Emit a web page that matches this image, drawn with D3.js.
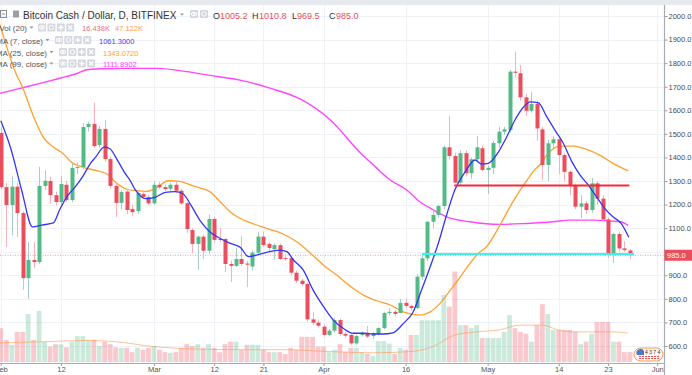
<!DOCTYPE html>
<html><head><meta charset="utf-8">
<script src="https://cdn.jsdelivr.net/npm/d3@7/dist/d3.min.js"></script>
<style>
body{margin:0;background:#fff;}
svg{display:block;font-family:"Liberation Sans",Arial,sans-serif;}
</style>
</head><body>
<svg id="chart" width="692" height="375"></svg>
<script>
// ---------------- DATA ----------------
const startDate = "2018-02-01";            // first daily candle
const open  = [1504,1274,1198,1276,1164,888,965,956,1279,1300,1240,1211,1284,1219,1355,1359,1529,1542,1453,1521,
 1393,1279,1207,1255,1181,1173,1245,1232,1205,1284,1274,1267,1284,1259,1206,1092,1033,1064,1004,1139,
 1054,1054,948,940,969,950,937,996,1064,1033,1011,1028,973,973,911,877,863,713,699,682,
 647,665,710,651,647,611,647,656,642,651,676,740,745,740,783,770,761,894,972,1127,
 1156,1194,1443,1406,1293,1418,1333,1392,1439,1347,1356,1460,1509,1516,1764,1757,1655,1598,1627,1519,
 1368,1460,1477,1410,1339,1283,1191,1205,1177,1290,1225,1137,993,1075,1014,1005.2];
const high  = [1530,1292,1320,1292,1172,1040,1040,1360,1345,1318,1255,1322,1300,1372,1378,1546,1552,1632,1532,1560,
 1402,1290,1262,1268,1200,1258,1252,1242,1300,1296,1285,1292,1296,1266,1210,1100,1068,1072,1156,1147,
 1100,1060,962,1016,1067,962,1005,1085,1085,1040,1035,1035,990,980,920,885,868,744,712,690,
 672,720,716,660,652,648,662,685,660,680,745,760,752,800,800,775,905,985,1130,1175,
 1200,1450,1576,1420,1430,1430,1400,1491,1450,1365,1470,1530,1530,1770,1849,1792,1670,1678,1640,1530,
 1475,1490,1485,1418,1345,1290,1240,1215,1313,1300,1240,1145,1080,1085,1045,1010.8];
const low   = [1265,1020,1070,1062,838,800,930,948,1262,1205,1196,1200,1210,1210,1330,1350,1510,1440,1440,1382,
 1268,1147,1180,1160,1150,1160,1225,1198,1198,1265,1258,1255,1250,1200,1080,994,922,969,990,1040,
 1040,914,871,935,940,850,920,990,1020,1000,965,965,960,900,868,855,705,690,680,640,
 640,655,645,636,605,605,640,634,630,645,670,730,725,740,760,750,755,880,960,1100,
 1145,1180,1390,1290,1280,1320,1310,1385,1340,1245,1330,1440,1495,1505,1740,1640,1575,1590,1470,1304,
 1300,1440,1330,1300,1240,1180,1143,1160,1165,1200,1130,973,952,1000,1000,969.5];
const close = [1274,1198,1276,1164,888,965,956,1279,1301,1240,1211,1287,1219,1355,1359,1529,1542,1448,1521,1393,
 1279,1207,1253,1177,1168,1249,1232,1205,1284,1273,1266,1284,1259,1205,1096,1033,1064,1004,1139,1050,
 1050,948,940,969,948,945,996,1064,1028,1016,1028,969,969,911,877,863,713,699,686,647,
 665,710,651,644,611,642,656,640,655,676,740,745,736,783,770,761,894,972,1127,1156,
 1194,1443,1406,1293,1418,1333,1392,1443,1347,1356,1461,1509,1519,1764,1759,1655,1598,1627,1523,1368,
 1460,1477,1410,1339,1283,1191,1205,1177,1290,1225,1137,993,1075,1014,1007,985.0];
const volume = [55,36,28,49,49,78,36,83,33,25,29,29,24,33,42,42,36,36,26,33,
 29,24,23,23,16,23,20,23,26,20,16,15,16,23,29,26,29,23,29,23,
 16,29,33,33,20,28,28,28,20,16,16,16,13,23,20,41,41,41,25,25,
 16,20,29,16,23,23,16,13,10,34,34,30,13,23,20,44,44,68,68,68,
 68,109,90,147,60,60,55,60,39,39,39,39,49,76,55,49,46,33,60,94,
 78,52,52,52,52,49,29,33,46,65,65,65,33,33,16,16.438];

// Moving averages: [day offset from startDate, value]
const ma7Days = [0,1.8,3.8,5.8,7.5,9.6,10.8,12.3,13.6,15,16.4,17.3,18.9,19.9,21.4,22.7,23.6,24.6,26.5,28.3,30.1,31.9,33.3,34.7,36.5,38.3,40.2,42,43.8,45.3,47.4,49.2,51,52.3,53.5,55.3,57.1,59,60.8,62.6,64.4,66.3,68.1,69.9,71.7,73.6,75.4,76.8,78.5,80,81.5,83,84.9,86.7,87.9,89.1,91,92.2,94,95.6,96.8,98.3,99.8,101.3,102.8,104.4,105.9,107.4,108.9,110.4,111.9,113.4,114.8];
const ma7Vals = [1556,1440,1262,1105,1113,1122,1180,1240,1275,1320,1375,1400,1444,1438,1385,1333,1304,1262,1225,1232,1252,1255,1246,1200,1130,1083,1055,1035,1018,979,990,1000,1007,1000,965,922,837,767,710,675,654,654,651,651,656,696,745,830,936,1037,1156,1262,1339,1389,1372,1375,1424,1474,1559,1615,1636,1631,1573,1516,1461,1382,1325,1283,1233,1184,1148,1120,1061.3];
const ma25Days = [-0.5,2.9,3.8,6,7.8,9.6,11.4,13,15.1,17.5,19.4,21.2,23,24.8,26.6,28.5,30.6,32.6,34.8,36.5,38.2,40.1,41.9,43.7,45.6,48.6,51.6,54.1,56.5,59,61.4,63.9,66.3,68.7,71.2,73.6,75.5,76.5,78.5,80.3,82.2,83.6,87.3,88.8,91.6,93.8,96.4,97.5,98.6,99.8,102.2,104.7,107.1,109.5,111.9,114.7];
const ma25Vals = [1990,1750,1707,1573,1484,1444,1416,1378,1358,1344,1330,1290,1265,1259,1256,1272,1301,1298,1283,1270,1255,1212,1170,1142,1123,1099,1075,1042,996,943,901,854,816,792,774,745,733,731,745,781,837,880,993,1021,1127,1219,1310,1345,1370,1410,1448,1448,1434,1410,1375,1343.07];
const ma99Days = [-0.5,3.5,7.2,10.8,13.9,15.7,18.1,23,28.5,34,37.6,43.7,49.2,54.7,60.2,65.7,68.5,71.2,74.2,76.6,79.1,81.5,85.8,91.3,96.1,101,104.1,108.3,113.2,114.7];
const ma99Vals = [1670,1693,1714,1736,1756,1772,1776,1778,1778,1764,1750,1728,1694,1648,1560,1420,1360,1304,1262,1212,1177,1148,1127,1116,1120,1127,1134,1134,1127,1111.89];
const volMaDays = [-0.5,8,16,21,28,36,44,52,60,68,75,79,83,87,91,95,99,102,105,109,112,114.7];
const volMaVals = [31,33,35,33,25,21,20,20,17,15,17,25,44,49,52,60,60,52,49,49,49,47.122];

// Drawn horizontal lines: [price, from day, to day]
const cyanLine = [990, 77, 115.8];
const redLine  = [1281, 82.9, 114.9];

const priceTicks = [600,700,800,900,1000,1100,1200,1300,1400,1500,1600,1700,1800,1900,2000];
const dateTicks  = ["2018-02-01","2018-02-12","2018-03-01","2018-03-12","2018-03-21","2018-04-01","2018-04-16","2018-05-01","2018-05-14","2018-05-23","2018-06-01"];
const dateLabels = ["Feb","12","Mar","12","21","Apr","16","May","14","23","Jun"];
const lastPrice = 985.0;

// ---------------- CHART ----------------
const W = 692, H = 375;
const plotR = 664.5, plotTop = 5, plotBot = 363;
const svg = d3.select("#chart");
const t0 = Date.parse(startDate + "T00:00:00Z");
const dayDate = d => new Date(t0 + d * 864e5);

const x = d3.scaleUtc().domain([new Date(Date.UTC(2018,1,1)), new Date(Date.UTC(2018,5,1))]).range([0.8, 657.2]);
const y = d3.scaleLinear().domain([600, 2000]).range([346, 16]);
const yv = d3.scaleLinear().domain([0, 150]).range([362, 362 - 150 * 0.615]);
const xd = d => x(dayDate(d));

const RED = "#eb4d5c", GREEN = "#53b987";

svg.append("rect").attr("x",0).attr("y",0).attr("width",W).attr("height",5).attr("fill","#e6e9ee");

svg.append("defs").append("clipPath").attr("id","clip")
  .append("rect").attr("x",0).attr("y",plotTop).attr("width",plotR).attr("height",plotBot-plotTop);

const grid = svg.append("g");
grid.selectAll("line.h").data(priceTicks).join("line")
  .attr("x1",0).attr("x2",plotR).attr("y1",d=>Math.round(y(d))+0.5).attr("y2",d=>Math.round(y(d))+0.5)
  .attr("stroke","#eef1f6").attr("stroke-width",1);
grid.selectAll("line.v").data(dateTicks).join("line")
  .attr("x1",d=>Math.round(x(new Date(d+"T00:00:00Z")))+0.5).attr("x2",d=>Math.round(x(new Date(d+"T00:00:00Z")))+0.5)
  .attr("y1",plotTop).attr("y2",plotBot).attr("stroke","#eef1f6").attr("stroke-width",1);

const plot = svg.append("g").attr("clip-path","url(#clip)");
const days = d3.range(open.length);

plot.append("g").selectAll("rect").data(days).join("rect")
  .attr("x", d => xd(d) - 2.4).attr("width", 4.8)
  .attr("y", d => yv(volume[d])).attr("height", d => yv(0) - yv(volume[d]))
  .attr("fill", d => close[d] >= open[d] ? GREEN : RED).attr("opacity", 0.3);

const lineGen = (days, vals, ys) => d3.line().x((d,i)=>xd(days[i])).y((d,i)=>ys(vals[i])).curve(d3.curveMonotoneX)(vals);

plot.append("path").attr("d", lineGen(volMaDays, volMaVals, yv))
  .attr("fill","none").attr("stroke","#ff9a52").attr("stroke-opacity",0.6).attr("stroke-width",1);

plot.append("line").attr("x1",0).attr("x2",plotR).attr("y1",y(lastPrice)).attr("y2",y(lastPrice))
  .attr("stroke","#f29aa3").attr("stroke-width",1).attr("stroke-dasharray","1,1.5");

plot.append("path").attr("d", lineGen(ma99Days, ma99Vals, y)).attr("fill","none").attr("stroke","#ff45ff").attr("stroke-width",1.4);
plot.append("path").attr("d", lineGen(ma25Days, ma25Vals, y)).attr("fill","none").attr("stroke","#ff9f2e").attr("stroke-width",1.3);

const cg = plot.append("g");
cg.selectAll("line").data(days).join("line")
  .attr("x1", d => Math.round(xd(d)) + 0.5).attr("x2", d => Math.round(xd(d)) + 0.5)
  .attr("y1", d => y(high[d])).attr("y2", d => y(low[d]))
  .attr("stroke", d => close[d] >= open[d] ? "#a8cbc6" : "#f6b0b6").attr("stroke-width",1);
cg.selectAll("rect").data(days).join("rect")
  .attr("x", d => Math.round(xd(d)) - 1.5).attr("width", 4)
  .attr("y", d => y(Math.max(open[d], close[d])))
  .attr("height", d => Math.max(1, Math.abs(y(open[d]) - y(close[d]))))
  .attr("fill", d => close[d] >= open[d] ? GREEN : RED);

plot.append("path").attr("d", lineGen(ma7Days, ma7Vals, y)).attr("fill","none").attr("stroke","#3535f5").attr("stroke-width",1.3);

plot.append("line").attr("x1",xd(cyanLine[1])).attr("x2",xd(cyanLine[2])).attr("y1",y(cyanLine[0])).attr("y2",y(cyanLine[0]))
  .attr("stroke","#3ff0f0").attr("stroke-width",2);
plot.append("line").attr("x1",xd(redLine[1])).attr("x2",xd(redLine[2])).attr("y1",y(redLine[0])).attr("y2",y(redLine[0]))
  .attr("stroke","#f52a33").attr("stroke-width",2);

const ax = svg.append("g").attr("transform",`translate(${plotR},0)`)
  .call(d3.axisRight(y).tickValues(priceTicks).tickFormat(d3.format(".1f")).tickSize(3).tickPadding(1));
ax.select(".domain").remove();
ax.selectAll("line").attr("stroke","#9a9ea6");
ax.selectAll("text").attr("fill","#4a4a4a").style("font-size","7.5px").style("font-family","Liberation Sans, Arial");
svg.append("line").attr("x1",plotR).attr("x2",plotR).attr("y1",plotTop).attr("y2",H).attr("stroke","#a8abb2").attr("stroke-width",1.2);

const bx = svg.append("g").attr("transform",`translate(0,${plotBot})`)
  .call(d3.axisBottom(x).tickValues(dateTicks.map(d=>new Date(d+"T00:00:00Z"))).tickFormat((d,i)=>dateLabels[i]).tickSize(3).tickPadding(1));
bx.select(".domain").remove();
bx.selectAll("line").attr("stroke","#9a9ea6");
bx.selectAll("text").attr("fill","#555").style("font-size","7.5px").style("font-family","Liberation Sans, Arial");
svg.append("line").attr("x1",0).attr("x2",plotR).attr("y1",plotBot+0.5).attr("y2",plotBot+0.5).attr("stroke","#a8abb2").attr("stroke-width",1);

svg.append("rect").attr("x",plotR).attr("y",y(lastPrice)-5.5).attr("width",W-plotR).attr("height",11).attr("fill","#ec4d5c");
svg.append("text").attr("x",plotR+2.5).attr("y",y(lastPrice)+3).attr("fill","#fff").style("font-size","7.5px").text(d3.format(".1f")(lastPrice));

// ---------------- LEGEND / HEADER ----------------
function iconBox(g, x0, y0, kind){
  g.append("rect").attr("x",x0).attr("y",y0).attr("width",8).attr("height",8).attr("rx",1).attr("fill","#d5d8de");
  const c = g.append("g").attr("stroke","#fff").attr("fill","none").attr("stroke-width",1);
  if(kind==="eye"){ c.append("ellipse").attr("cx",x0+4).attr("cy",y0+4).attr("rx",2.8).attr("ry",1.8); c.append("circle").attr("cx",x0+4).attr("cy",y0+4).attr("r",0.8).attr("fill","#fff"); }
  if(kind==="gear"){ c.append("circle").attr("cx",x0+4).attr("cy",y0+4).attr("r",2.2); }
  if(kind==="plus"){ c.append("path").attr("d",`M${x0+4},${y0+1.5}V${y0+6.5}M${x0+1.5},${y0+4}H${x0+6.5}`).attr("stroke-width",1.4); }
  if(kind==="x"){ c.append("path").attr("d",`M${x0+2},${y0+2}L${x0+6},${y0+6}M${x0+6},${y0+2}L${x0+2},${y0+6}`).attr("stroke-width",1.2); }
}
const hdr = svg.append("g");
hdr.append("rect").attr("x",0.5).attr("y",10.5).attr("width",6).attr("height",7).attr("fill","none").attr("stroke","#8a8e96");
hdr.append("line").attr("x1",2).attr("x2",5).attr("y1",14).attr("y2",14).attr("stroke","#8a8e96");
hdr.append("path").attr("d","M13,10.5h6v7h-6z M14,11.5 l4,2.5 -4,2.5z").attr("fill","#9a9ea6");
hdr.append("text").attr("x",23).attr("y",18.5).attr("fill","#333").style("font-size","10px")
  .text("Bitcoin Cash / Dollar, D, BITFINEX");
hdr.append("path").attr("d","M180,13.5h4l-2,2.2z").attr("fill","#999");
iconBox(hdr,190,10,"eye"); iconBox(hdr,200,10,"gear");
const ohlc = [["O",213,"1005.2",220],["H",252,"1010.8",259],["L",292,"969.5",297],["C",329,"985.0",336]];
ohlc.forEach(([k,kx,v,vx])=>{
  hdr.append("text").attr("x",kx).attr("y",18.5).attr("fill","#333").style("font-size","9px").text(k);
  hdr.append("text").attr("x",vx).attr("y",18.5).attr("fill","#e8505b").style("font-size","9px").text(v);
});

const legendRows = [
  {label:"Vol (20)", end:27, y:31, icons:38, vals:[["16.438K","#f0707b",82],["47.122K","#ff9a52",115]]},
  {label:"MA (7, close)", end:43, y:43.5, icons:55, vals:[["1061.3000","#4040ff",99]]},
  {label:"MA (25, close)", end:47, y:55.5, icons:59, vals:[["1343.0720","#ff9f2e",103]]},
  {label:"MA (99, close)", end:47, y:67, icons:59, vals:[["1111.8902","#ff40ff",103]]}
];
legendRows.forEach(r=>{
  hdr.append("text").attr("x",r.end).attr("y",r.y).attr("text-anchor","end").attr("fill","#555").style("font-size","8px").text(r.label);
  hdr.append("path").attr("d",`M${r.end+2.5},${r.y-4.5}h4l-2,2.2z`).attr("fill","#999");
  ["eye","gear","plus","x"].forEach((k,i)=>iconBox(hdr, r.icons + i*9.4, r.y-7.5, k));
  r.vals.forEach(([t,c,vx])=>hdr.append("text").attr("x",vx).attr("y",r.y).attr("fill",c).style("font-size","7.5px").text(t));
});

const bd = svg.append("g");
bd.append("rect").attr("x",634).attr("y",348).attr("width",29).attr("height",13).attr("rx",6.5).attr("fill","#fff5ee").attr("stroke","#f5a04a").attr("stroke-width",1);
bd.append("path").attr("d","M637,355 a4,4 0 0 1 7,-4 v4z").attr("fill","#4a78d0");
bd.append("text").attr("x",645).attr("y",354).attr("fill","#333").style("font-size","5px").text("4 3 7 4");
[356.5,358.5].forEach(yy=>bd.append("line").attr("x1",639).attr("x2",659).attr("y1",yy).attr("y2",yy).attr("stroke","#e8505b").attr("stroke-width",1).attr("stroke-dasharray","2,1"));
</script>
</body></html>
